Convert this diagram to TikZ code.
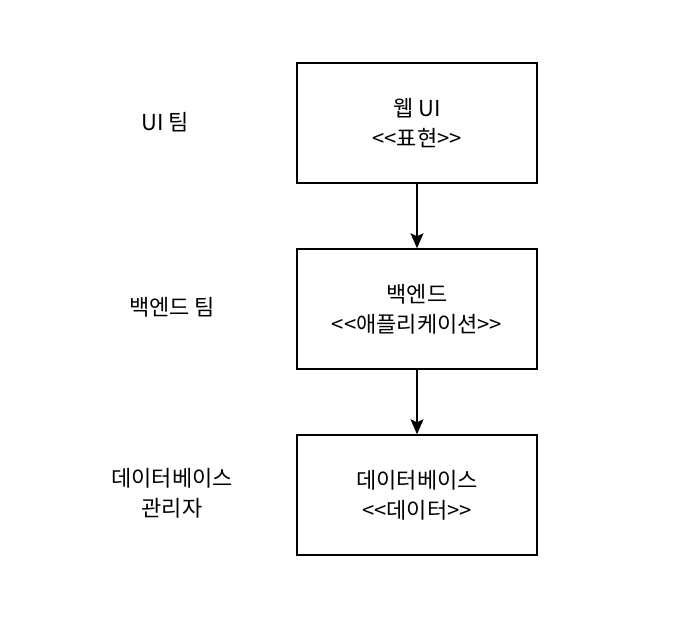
\documentclass[tikz,border=0pt]{standalone}
\usepackage{fontspec}
\setmainfont{Noto Sans CJK KR}
\usetikzlibrary{arrows.meta}
\newcommand{\LL}{<\kern0pt<}
\newcommand{\GG}{>\kern0pt>}
\begin{document}
\begin{tikzpicture}[x=1pt,y=-1pt,
  box/.style={draw,line width=1.5pt,minimum width=240pt,minimum height=120pt,inner sep=0pt,align=center,font=\fontsize{22}{30}\selectfont},
  lbl/.style={align=center,font=\fontsize{22}{30}\selectfont},
  conn/.style={line width=1.5pt,-{Stealth[length=15pt,width=13pt,inset=3pt]}}]
\useasboundingbox (0,0) rectangle (690,622);
\node[box] (web) at (417,123) {웹 UI\\\LL 표현\GG};
\node[box] (be) at (417,309) {백엔드\\\LL 애플리케이션\GG};
\node[box] (db) at (417,495) {데이터베이스\\\LL 데이터\GG};
\node[lbl] (l1) at (165,122) {UI 팀};
\node[lbl] (l2) at (172,307) {백엔드 팀};
\node[lbl] (l3) at (172,493) {데이터베이스\\관리자};
\draw[conn] (web) -- (be);
\draw[conn] (be) -- (db);
\end{tikzpicture}
\end{document}
